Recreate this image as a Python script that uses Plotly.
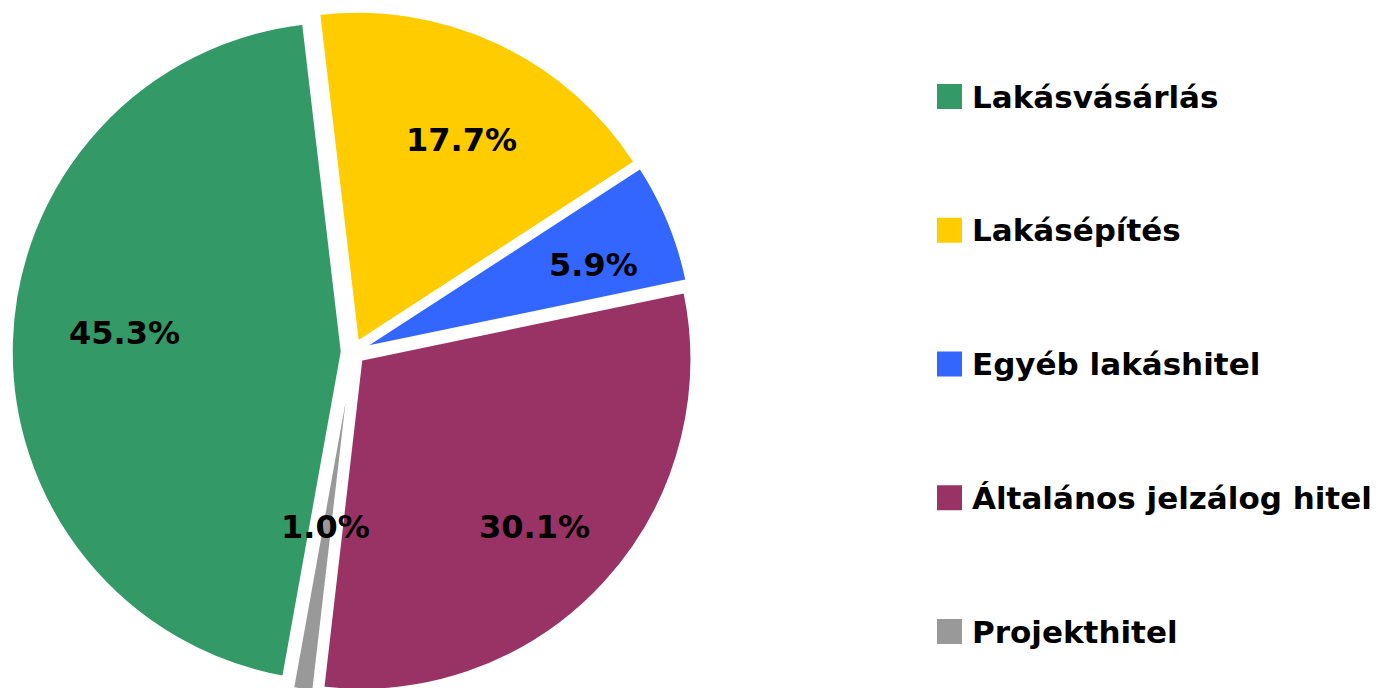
import math
import plotly.graph_objects as go

labels = ["Lakásvásárlás", "Lakásépítés", "Egyéb lakáshitel", "Általános jelzálog hitel", "Projekthitel"]
values = [45.3, 17.7, 5.9, 30.1, 1.0]
colors = ["#339966", "#FFCC00", "#3366FF", "#993366", "#999999"]

# label placement: fraction of pie radius and small angular nudge (degrees) per slice
label_radius = [0.66, 0.687, 0.741, 0.731, 0.502]
label_nudge = [3.0, 2.0, 2.5, 1.5, 0.7]

W, H = 1379, 700   # page is viewed through a 688 px tall window, bottom of pie is clipped
FONT = "DejaVu Sans"
ROT = 190.2
PULL = 0.0333

# pie domain in pixels (from top-left)
dx0, dx1 = 11.5, 694.5
dy0, dy1 = 10.5, 693.5
cx = (dx0 + dx1) / 2
cy = (dy0 + dy1) / 2
rmax = min(dx1 - dx0, dy1 - dy0) / 2
r = rmax / (1 + PULL)

fig = go.Figure()
fig.add_trace(go.Pie(
    labels=labels,
    values=values,
    sort=False,
    direction="clockwise",
    rotation=ROT,
    pull=[PULL] * len(values),
    marker=dict(colors=colors, line=dict(color="white", width=2.5)),
    textinfo="none",
    domain=dict(x=[dx0 / W, dx1 / W], y=[1 - dy1 / H, 1 - dy0 / H]),
    showlegend=False,
    hoverinfo="label+percent",
))

annotations = []
total = sum(values)
cum = 0.0
for v, rf, nd in zip(values, label_radius, label_nudge):
    theta = math.radians(ROT + (cum + v / 2) / total * 360 + nd)
    cum += v
    rr = rf * r + PULL * r
    px = cx + rr * math.sin(theta)
    py = cy - rr * math.cos(theta)
    annotations.append(dict(text=f"{v / total * 100:.1f}%", xref="paper", yref="paper",
                            x=px / W, y=1 - py / H, xanchor="center", yanchor="middle",
                            showarrow=False,
                            font=dict(family=FONT, size=32, color="black", weight="bold")))

# legend built from labels/colors
shapes = []
top_c = 96.5
step = 133.75
sq = 25
for i, (lab, col) in enumerate(zip(labels, colors)):
    ly = top_c + i * step
    shapes.append(dict(type="rect", xref="paper", yref="paper",
                       x0=937 / W, x1=(937 + sq) / W,
                       y0=1 - (ly + sq / 2) / H, y1=1 - (ly - sq / 2) / H,
                       fillcolor=col, line=dict(width=0)))
    annotations.append(dict(text=lab, xref="paper", yref="paper",
                            x=970 / W, y=1 - ly / H, xanchor="left", yanchor="middle",
                            showarrow=False,
                            font=dict(family=FONT, size=31, color="black", weight="bold")))

fig.update_layout(
    width=W, height=H,
    margin=dict(l=0, r=0, t=0, b=0),
    paper_bgcolor="white",
    plot_bgcolor="white",
    shapes=shapes,
    annotations=annotations,
)

fig.write_html("out.html",
               config={"displayModeBar": False},
               post_script="document.body.style.margin='0px';document.body.style.overflow='hidden';")
